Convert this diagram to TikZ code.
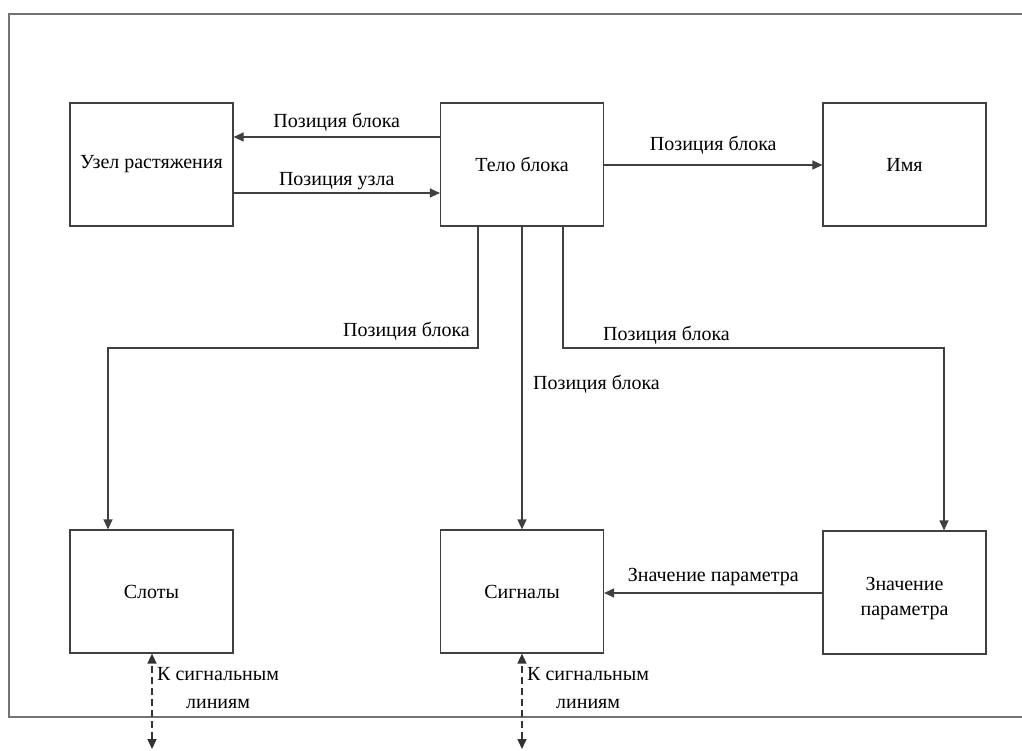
\documentclass[tikz,border=0pt]{standalone}
\usepackage{fontspec}
\setmainfont{Liberation Serif}
\usetikzlibrary{arrows.meta,calc}
\begin{document}
\begin{tikzpicture}[x=1pt,y=-1pt,
  blk/.style={draw=black!75,line width=1.2pt,minimum width=163pt,minimum height=123pt,inner sep=0pt,font=\fontsize{20}{24}\selectfont,align=center},
  lbl/.style={font=\fontsize{20}{24}\selectfont,inner sep=1pt},
  conn/.style={draw=black!75,line width=1.2pt,-{Triangle[length=10pt,width=9pt]}},
  link/.style={draw=black!80,line width=1.6pt,dash pattern=on 7pt off 4pt,{Triangle[length=10pt,width=9pt]}-{Triangle[length=10pt,width=9pt]}}]
\useasboundingbox (0,0) rectangle (1022,751);
% outer frame, running past the right edge
\draw[black!55,line width=1.6pt] (1040,14) -- (9,14) -- (9,717) -- (1040,717);
% blocks
\node[blk] (node) at (151.5,164.5) {Узел растяжения};
\node[blk] (body) at (522,164.5) {Тело блока};
\node[blk] (name) at (904.5,164.5) {Имя};
\node[blk] (slots) at (151.5,591.5) {Слоты};
\node[blk] (sig) at (522,591.5) {Сигналы};
\node[blk] (par) at (904.5,592.5) {\rule{0pt}{26pt}Значение\\[1pt]параметра};
% top row links
\draw[conn] (body.west |- 0,137) -- (node.east |- 0,137)
  node[lbl,midway,above=4pt] {Позиция блока};
\draw[conn] (node.east |- 0,193) -- (body.west |- 0,193)
  node[lbl,midway,above=2pt] {Позиция узла};
\draw[conn] (body.east |- 0,165) -- (name.west |- 0,165)
  node[lbl,midway,above=9pt] {Позиция блока};
% links down from the block body
\coordinate (bl) at (478,348);
\coordinate (br) at (563,348);
\draw[conn] (bl |- body.south) -- (bl) -- (bl -| 108,0) -- (108,0 |- slots.north);
\node[lbl,anchor=south east] (lslots) at (471,342) {Позиция блока};
\draw[conn] (body.south) -- (sig.north);
\node[lbl,anchor=west] (lsig) at (532,384) {Позиция блока};
\draw[conn] (br |- body.south) -- (br) -- (br -| 944,0) -- (944,0 |- par.north);
\node[lbl,anchor=south west] (lpar) at (602,346) {Позиция блока};
% parameter value into signals
\draw[conn] (par.west |- 0,593) -- (sig.east |- 0,593)
  node[lbl,midway,above=6pt] {Значение параметра};
% outgoing signal lines
\coordinate (so) at (152,749);
\coordinate (go) at (522,749);
\draw[link] (so) -- (152,0 |- slots.south);
\draw[link] (go) -- (sig.south);
\node[lbl,align=center,anchor=north west] (ls) at (156,666) {К сигнальным\\[4pt]линиям};
\node[lbl,align=center,anchor=north west] (lg) at (526,666) {К сигнальным\\[4pt]линиям};
\end{tikzpicture}
\end{document}
